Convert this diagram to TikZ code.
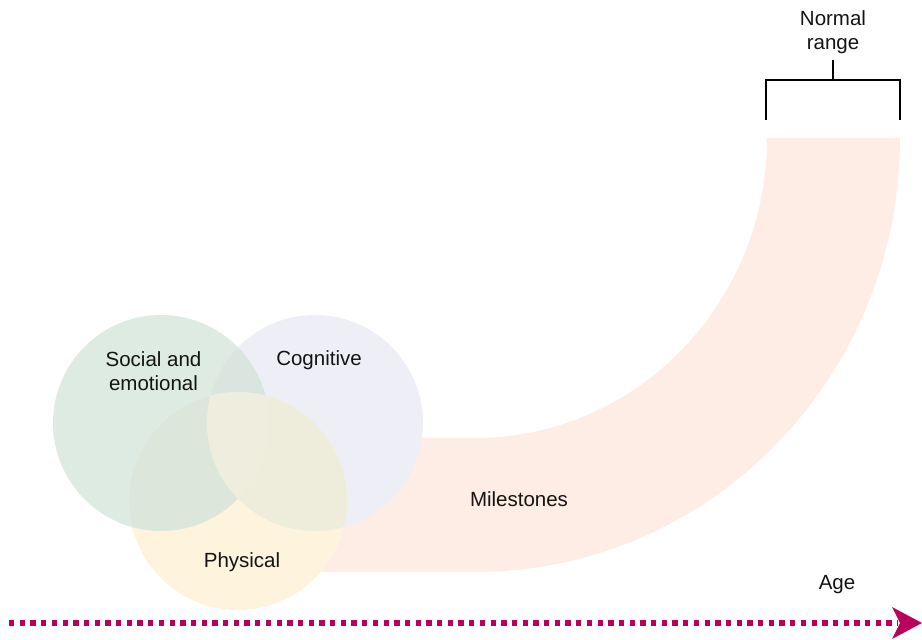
\documentclass[tikz,border=0pt]{standalone}
\usepackage{fontspec}
\setmainfont{Liberation Sans}
\definecolor{bandpink}{RGB}{253,237,229}
\definecolor{socgreen}{RGB}{221,235,227}
\definecolor{coglav}{RGB}{238,238,246}
\definecolor{physyel}{RGB}{254,244,222}
\definecolor{ovGL}{RGB}{217,229,222}
\definecolor{ovGY}{RGB}{220,230,219}
\definecolor{ovLY}{RGB}{238,237,219}
\definecolor{ovGLY}{RGB}{238,237,222}
\definecolor{agered}{RGB}{184,0,92}
\definecolor{txt}{RGB}{20,20,20}
\tikzset{
  lbl/.style={font=\fontsize{20.5}{24}\selectfont, text=txt, align=center, inner sep=0pt},
  venn/.style={circle, draw=none, inner sep=0pt},
  brk/.style={draw=black, line width=1.2pt},
}
\def\cG{(161,217) circle[radius=108]}
\def\cL{(315,217) circle[radius=108]}
\def\cY{(238,139) circle[radius=109]}
\begin{document}
\begin{tikzpicture}[x=1pt,y=1pt]
\useasboundingbox (0,0) rectangle (922,640);
% milestone band
\fill[bandpink] (320,202) -- (475,202) arc[start angle=270,end angle=360,x radius=292,y radius=300]
  -- (900,502) arc[start angle=0,end angle=-90,x radius=425,y radius=434] -- (320,68) -- cycle;
% circles
\node[venn, fill=socgreen, minimum size=216pt] (soc) at (161,217) {};
\node[venn, fill=coglav, minimum size=216pt] (cog) at (315,217) {};
\node[venn, fill=physyel, minimum size=218pt] (phy) at (238,139) {};
% overlaps
\begin{scope}\clip \cG; \fill[ovGL] \cL; \end{scope}
\begin{scope}\clip \cG; \fill[ovGY] \cY; \end{scope}
\begin{scope}\clip \cL; \fill[ovLY] \cY; \end{scope}
\begin{scope}\clip \cG; \clip \cL; \fill[ovGLY] \cY; \end{scope}
% labels
\node[lbl] (soct) at (153.5,268.5) {Social and\\emotional};
\node[lbl] (cogt) at (319,279.5) {Cognitive};
\node[lbl] (phyt) at (242,77.5) {Physical};
\node[lbl] (mil) at (519,140.5) {Milestones};
\node[lbl] (age) at (837,55) {Age};
\node[lbl] (norm) at (833,608) {Normal\\range};
% bracket
\coordinate (bl) at (766,520);
\coordinate (br) at (900,520);
\coordinate (blt) at (766,560);
\coordinate (brt) at (900,560);
\coordinate (bm) at (833,560);
\coordinate (bs) at (833,580);
\draw[brk] (bl) -- (blt) -- (brt) -- (br);
\draw[brk] (bm) -- (bs);
% age arrow
\coordinate (a0) at (9,17);
\coordinate (a1) at (898,17);
\coordinate (tip) at (922,17);
\draw[agered, line width=5.3pt, dash pattern=on 5.35pt off 5.35pt] (a0) -- (a1);
\fill[agered] (tip) -- (892,33) -- (900,17) -- (892,1) -- cycle;
\end{tikzpicture}
\end{document}
